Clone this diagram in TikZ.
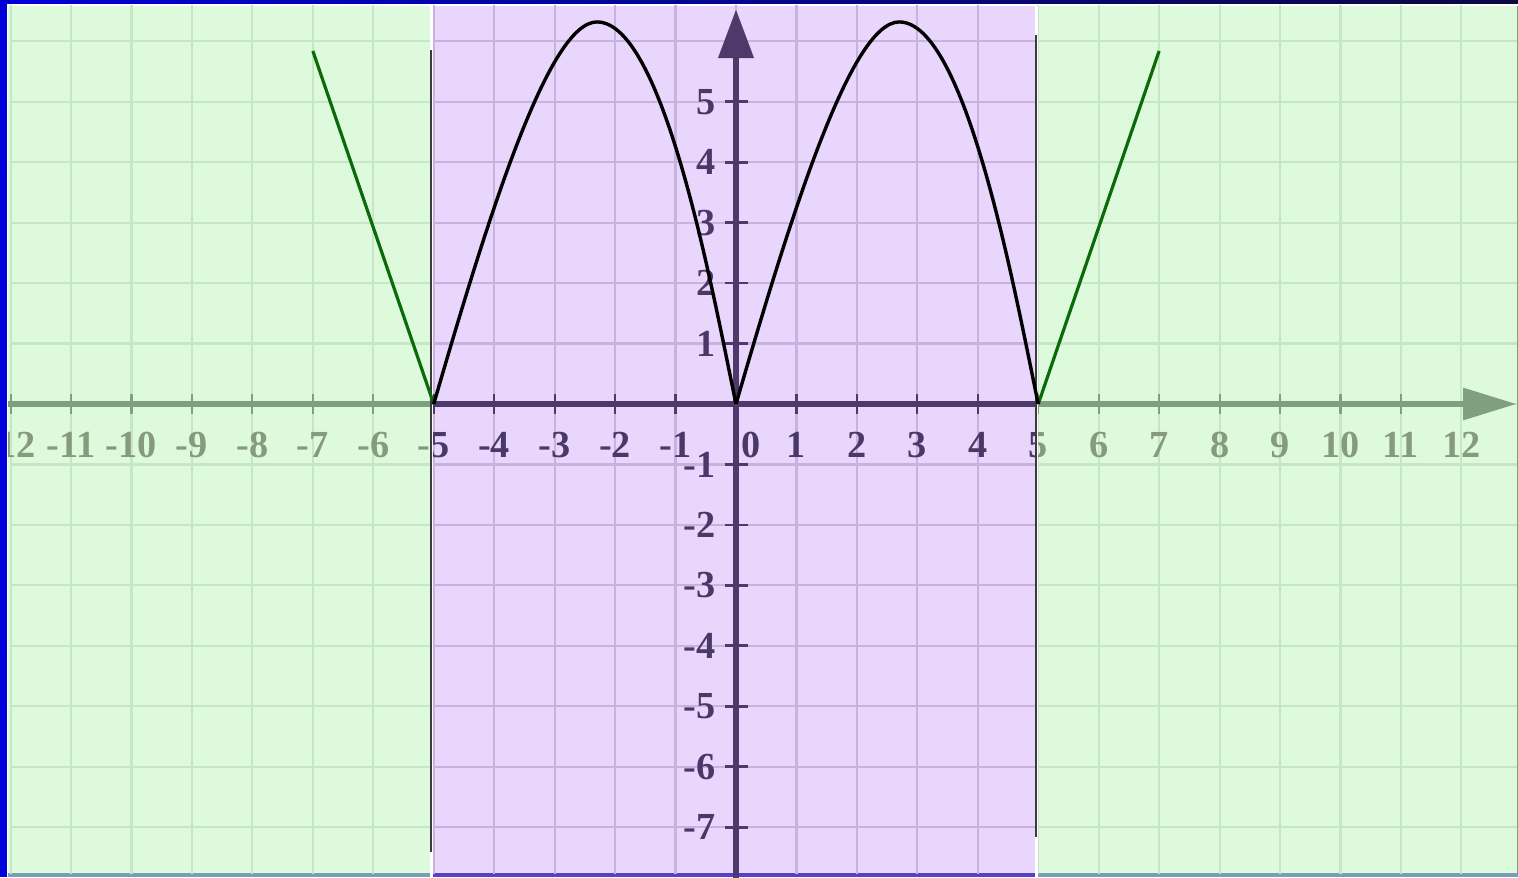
\documentclass[tikz,border=0pt]{standalone}
\usepackage{fontspec}
\setmainfont{Liberation Serif}
\usepackage{xcolor}
\usepackage{tikz}
\definecolor{greenbg}{HTML}{DDFADC}
\definecolor{greengrid}{HTML}{C6E6C6}
\definecolor{greenaxis}{HTML}{7F9F7F}
\definecolor{greenlabel}{HTML}{869A7C}
\definecolor{purplebg}{HTML}{E8D6FC}
\definecolor{purplegrid}{HTML}{C8B2E0}
\definecolor{purpleaxis}{HTML}{4E3A6A}
\definecolor{purplelabel}{HTML}{4A3868}
\definecolor{curvegreen}{HTML}{0B6B0B}
\definecolor{framebar}{HTML}{0000D8}
\definecolor{framenavy}{HTML}{0A0A40}
\definecolor{bottomgreen}{HTML}{7C9CB8}
\definecolor{bottompurple}{HTML}{5A40C0}
\definecolor{edgegray}{HTML}{3C3C3C}

\begin{document}
\begin{tikzpicture}[
  gridline/.style={line width=1pt},
  axisline/.style={line width=2.4pt},
  tickline/.style={line width=1pt},
  numlabel/.style={font=\fontsize{18}{18}\selectfont\bfseries, inner sep=0pt},
  archline/.style={line width=1.6pt, black, line join=round},
  sideline/.style={line width=1.5pt, curvegreen},
  edgeline/.style={line width=0.9pt, edgegray}
]
\useasboundingbox (-12.175,-7.825) rectangle (12.936,6.683);

% --- frame ---
\fill[white] (-12.175,-7.825) rectangle (12.936,6.683);
\fill[left color=framebar, right color=framenavy] (-12.175,6.617) rectangle (12.936,6.683);
\fill[framebar] (-12.175,-7.825) rectangle (-12.06,6.683);
\fill[bottomgreen] (-12.04,-7.825) rectangle (12.936,-7.76);
\fill[bottompurple] (-5.01,-7.825) rectangle (4.95,-7.76);

% --- green and purple planes ---
\foreach \sch/\xa/\xb in {green/-12.04/12.936, purple/-5.01/4.95} {
  \begin{scope}
    \clip (\xa,-7.76) rectangle (\xb,6.585);
    \fill[\sch bg] (\xa,-7.76) rectangle (\xb,6.585);
    \draw[gridline, \sch grid] (-12,-8) grid (13,7);
    \draw[axisline, \sch axis] (-12.2,0) -- (12.1,0);
    \foreach \i in {-12,...,11}
      \draw[tickline, \sch axis] (\i,-0.16) -- (\i,0.16);
    \foreach \i in {-12,...,-1,1,2,...,12}
      \node[numlabel, text=\sch label] (\sch x\i) at (\i,-0.68) {\i};
  \end{scope}
}
\fill[greenaxis] (12.03,-0.27) -- (12.9,0) -- (12.03,0.27) -- cycle;
\draw[greenaxis, line width=0.5pt] (12.925,-7.76) -- (12.925,6.585);

% --- y axis ---
\draw[axisline, purpleaxis, line width=2.8pt] (0,-7.9) -- (0,5.75);
\fill[purpleaxis] (-0.3,5.72) -- (0,6.52) -- (0.3,5.72) -- cycle;
\foreach \j in {-7,...,-1,1,2,...,5} {
  \draw[tickline, purpleaxis, line width=1.3pt] (-0.18,\j) -- (0.2,\j);
  \node[numlabel, text=purplelabel, anchor=east] (y\j) at (-0.33,\j) {\j};
}
\node[numlabel, text=purplelabel] (xzero) at (0.25,-0.68) {0};

% --- region edges ---
\draw[white, line width=1.5pt] (-5.035,-7.825) -- (-5.035,6.59);
\draw[white, line width=1.5pt] (4.97,-7.825) -- (4.97,6.59);
\draw[edgeline] (-5.04,-7.41) -- (-5.04,5.86);
\draw[edgeline] (4.965,-7.16) -- (4.965,6.10);

% --- graph ---
\draw[sideline] (-5,0) -- (-7,5.84);
\draw[sideline] (5,0) -- (7,5.84);
\foreach \s in {-5,0}
  \draw[archline, shift={(\s,0)}] (0,0) .. controls (0.9,3.1) and (1.9,6.32) .. (2.7,6.32)
    .. controls (3.8,6.32) and (4.6,1.92) .. (5,0);

\end{tikzpicture}
\end{document}
